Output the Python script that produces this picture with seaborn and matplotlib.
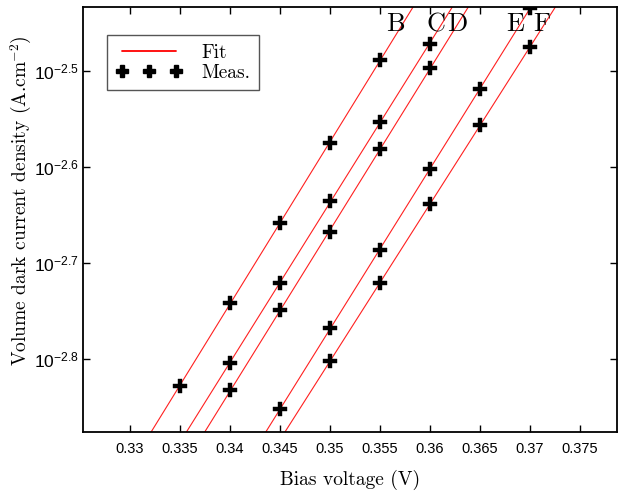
import numpy as np
import pandas as pd
import matplotlib
matplotlib.use("Agg")
import matplotlib.pyplot as plt
import seaborn as sns
from matplotlib.lines import Line2D

# ---- data ----
devices = ["B", "C", "D", "E", "F"]
bias_B = [0.335, 0.340, 0.345, 0.350, 0.355]
dens_B = [1.487e-3, 1.813e-3, 2.198e-3, 2.664e-3, 3.247e-3]
bias_C = [0.340, 0.345, 0.350, 0.355, 0.360]
dens_C = [1.570e-3, 1.904e-3, 2.316e-3, 2.797e-3, 3.380e-3]
bias_D = [0.340, 0.345, 0.350, 0.355, 0.360]
dens_D = [1.470e-3, 1.781e-3, 2.151e-3, 2.623e-3, 3.187e-3]
bias_E = [0.345, 0.350, 0.355, 0.360, 0.365, 0.370]
dens_E = [1.407e-3, 1.707e-3, 2.057e-3, 2.499e-3, 3.034e-3, 3.684e-3]
bias_F = [0.350, 0.355, 0.360, 0.365, 0.370]
dens_F = [1.579e-3, 1.901e-3, 2.298e-3, 2.779e-3, 3.353e-3]

x_ticks = [0.33, 0.335, 0.34, 0.345, 0.35, 0.355, 0.36, 0.365, 0.37, 0.375]
x_tick_labels = ["0.33", "0.335", "0.34", "0.345", "0.35", "0.355", "0.36", "0.365", "0.37", "0.375"]
y_tick_exp = ["-2.5", "-2.6", "-2.7", "-2.8"]
label_x = [0.3565, 0.3606, 0.3627, 0.3685, 0.3712]

bias = {"B": bias_B, "C": bias_C, "D": bias_D, "E": bias_E, "F": bias_F}
dens = {"B": dens_B, "C": dens_C, "D": dens_D, "E": dens_E, "F": dens_F}

rows = []
for d in devices:
    for v, j in zip(bias[d], dens[d]):
        rows.append({"device": d, "bias": v, "density": j})
meas = pd.DataFrame(rows)

xgrid = np.linspace(0.320, 0.385, 50)
fit_rows = []
for d in devices:
    k, b = np.polyfit(bias[d], np.log10(dens[d]), 1)
    for v in xgrid:
        fit_rows.append({"device": d, "bias": v, "density": 10 ** (k * v + b)})
fit = pd.DataFrame(fit_rows)

# ---- style ----
sns.set_theme(style="ticks")
plt.rcParams["font.family"] = ["Liberation Sans", "DejaVu Sans"]
plt.rcParams["mathtext.fontset"] = "custom"
plt.rcParams["mathtext.rm"] = "Liberation Sans"
plt.rcParams["mathtext.it"] = "Liberation Sans:italic"
for key in ["text.color", "axes.labelcolor", "xtick.color", "ytick.color", "axes.edgecolor"]:
    plt.rcParams[key] = "black"
serif = ["cmr10", "DejaVu Serif"]

fig = plt.figure(figsize=(6.26, 4.93), dpi=100)
ax = fig.add_axes([0.1326, 0.1237, 0.8530, 0.8621])

sns.lineplot(data=fit, x="bias", y="density", units="device", estimator=None,
             color="#ff2020", lw=0.8, ax=ax, legend=False, sort=True)
sns.scatterplot(data=meas, x="bias", y="density", marker="P", s=95,
                color="black", edgecolor="black", linewidth=0.3, ax=ax,
                legend=False, zorder=3)

ax.set_yscale("log")
ax.set_xlim(0.3253, 0.3787)
ax.set_ylim(10 ** -2.876, 10 ** -2.433)

ax.set_xticks(x_ticks)
ax.set_xticklabels(x_tick_labels, fontsize=10.5)
ax.yaxis.set_major_locator(matplotlib.ticker.FixedLocator([10 ** float(e) for e in y_tick_exp]))
ax.yaxis.set_minor_locator(matplotlib.ticker.NullLocator())
ax.set_yticklabels([r"$10^{\mathregular{%s}}$" % e for e in y_tick_exp], fontsize=12.5)

ax.tick_params(direction="in", length=5, width=1, top=True, right=True)
ax.tick_params(axis="x", pad=7)
ax.tick_params(axis="y", pad=3)
for sp in ax.spines.values():
    sp.set_visible(True)
    sp.set_linewidth(1.3)
    sp.set_color("black")

ax.set_xlabel("Bias voltage (V)", family=serif, fontsize=14, labelpad=10)
ax.set_ylabel(r"Volume dark current density (A.cm$^{\mathregular{-2}}$)", family=serif,
              fontsize=14)
ax.yaxis.set_label_coords(-0.093, 0.545)

for d, lx in zip(devices, label_x):
    ax.text(lx, 10 ** -2.451, d, family=serif, fontsize=19, ha="center", va="center")

handles = [Line2D([], [], color="red", lw=1.3),
           Line2D([], [], color="black", marker="P", ls="none", markersize=9)]
leg = ax.legend(handles, ["Fit", "Meas."], loc="upper left",
                bbox_to_anchor=(0.045, 0.934), borderaxespad=0, numpoints=3,
                handlelength=3.4, fancybox=False, framealpha=1,
                edgecolor="#555555", prop={"family": serif, "size": 14},
                borderpad=0.45, labelspacing=0.1, handletextpad=1.0)
leg.get_frame().set_linewidth(1.0)

fig.savefig("out.png", dpi=100)
